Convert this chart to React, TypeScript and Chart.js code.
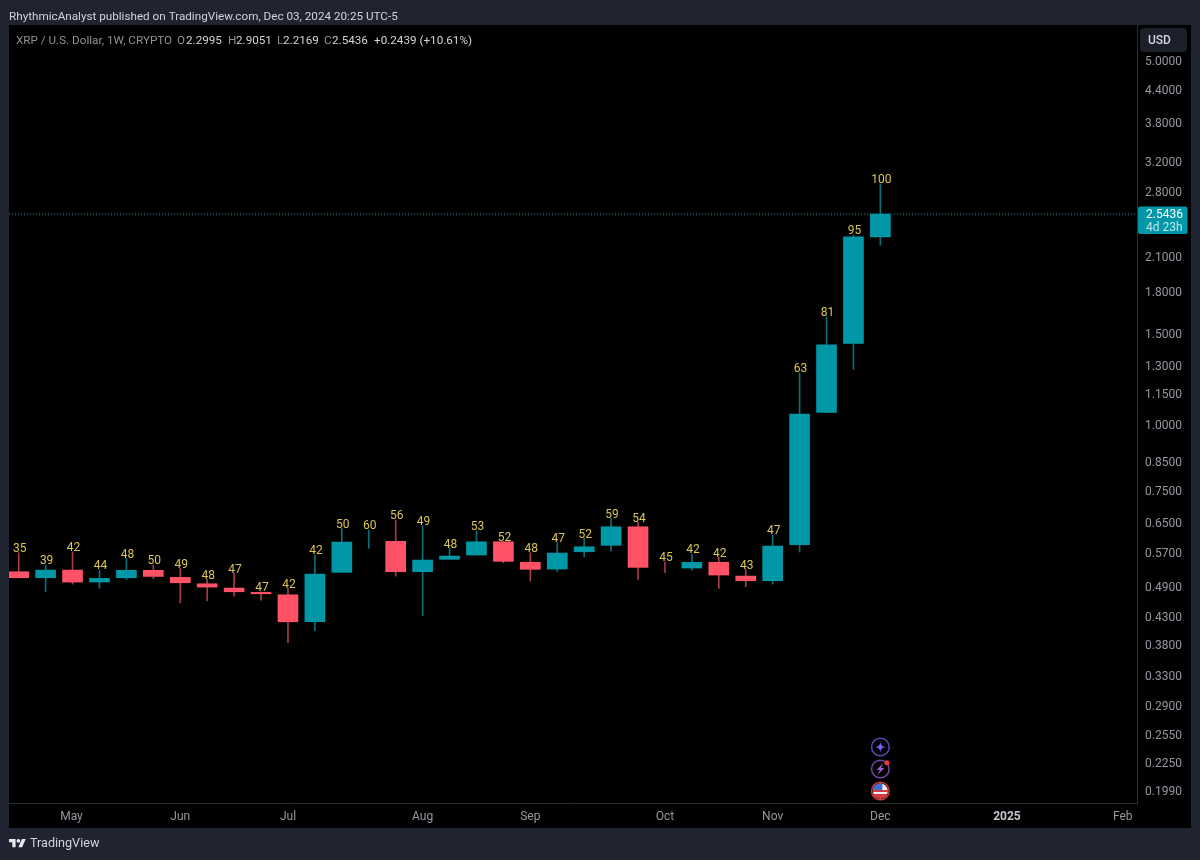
import React, { useEffect, useRef } from 'react';
import { Chart, registerables } from 'chart.js';

Chart.register(...registerables);

const FONT = 'Roboto, "Noto Sans", sans-serif';
const TEAL = '#0097a7';
const RED = '#ff5266';
const TEAL_WICK = '#0b6f78';
const RED_WICK = '#a83a49';

// weekly candles; null open/close = only a wick is visible
const opens = [0.524, 0.5103, 0.5279, 0.5007, 0.5103, 0.5273, 0.5111, 0.4969, 0.4876, 0.4784, 0.4733, 0.4201, 0.5226, null, 0.5993, 0.524, 0.5535, 0.5641, 0.5982, 0.5462, 0.5302, 0.5723, 0.5888, 0.6392, null, 0.5326, 0.5462, 0.5141, 0.5035, 0.5903, 1.0594, 1.437, 2.2995];
const highs = [0.5699, 0.5397, 0.5723, 0.5279, 0.5559, 0.5397, 0.5319, 0.5066, 0.5203, 0.4797, 0.4869, 0.5641, 0.6347, 0.63, 0.6584, 0.6412, 0.581, 0.628, 0.5982, 0.5699, 0.5956, 0.6072, 0.6633, 0.6517, 0.5476, 0.5666, 0.5584, 0.5296, 0.6162, 1.2603, 1.616, 2.3185, 2.9051];
const lows = [0.5103, 0.4797, 0.4962, 0.4869, 0.5066, 0.508, 0.4569, 0.461, 0.4707, 0.4624, 0.3829, 0.4038, 0.5226, 0.581, 0.5141, 0.4314, 0.5535, 0.5641, 0.5452, 0.5029, 0.524, 0.5599, 0.5741, 0.5066, 0.5216, 0.5279, 0.4869, 0.4904, 0.4962, 0.5716, 1.0594, 1.281, 2.2169];
const closes = [0.5103, 0.5279, 0.5007, 0.5089, 0.5273, 0.5133, 0.4991, 0.4897, 0.4797, 0.4754, 0.4201, 0.5187, 0.5974, null, 0.524, 0.5518, 0.5616, 0.5982, 0.5486, 0.5296, 0.5691, 0.5852, 0.6392, 0.5342, null, 0.5462, 0.5164, 0.5035, 0.587, 1.0515, 1.4281, 2.2995, 2.5436];
const rising = [0, 1, 0, 1, 1, 0, 0, 0, 0, 0, 0, 1, 1, 1, 0, 1, 1, 1, 0, 0, 1, 1, 1, 0, 0, 1, 0, 0, 1, 1, 1, 1, 1];
const rsiLabels = ['35', '39', '42', '44', '48', '50', '49', '48', '47', '47', '42', '42', '50', '60', '56', '49', '48', '53', '52', '48', '47', '52', '59', '54', '45', '42', '42', '43', '47', '63', '81', '95', '100'];

const priceTicks = [5, 4.4, 3.8, 3.2, 2.8, 2.1, 1.8, 1.5, 1.3, 1.15, 1, 0.85, 0.75, 0.65, 0.57, 0.49, 0.43, 0.38, 0.33, 0.29, 0.255, 0.225, 0.199];
const monthPositions = [1.96, 6, 10, 15, 19, 24, 28, 32, 36.7, 41];
const monthLabels = ['May', 'Jun', 'Jul', 'Aug', 'Sep', 'Oct', 'Nov', 'Dec', '2025', 'Feb'];
const lastPrice = 2.5436;

const X_MIN = -0.36;
const X_MAX = 41.53;
const Y_MIN = 0.1887;
const Y_MAX = 5.862;

const pageBackground = {
  id: 'pageBackground',
  beforeDraw(chart: Chart) {
    const { ctx } = chart;
    ctx.save();
    ctx.fillStyle = '#1f2430';
    ctx.fillRect(0, 0, 1200, 860);
    ctx.fillStyle = '#000';
    ctx.fillRect(9, 25, 1182, 803);
    ctx.restore();
  },
};

const rsiText = {
  id: 'rsiText',
  afterDatasetsDraw(chart: Chart) {
    const { ctx, scales } = chart;
    ctx.save();
    ctx.font = `12px ${FONT}`;
    ctx.fillStyle = '#d9c653';
    ctx.textAlign = 'center';
    ctx.textBaseline = 'middle';
    rsiLabels.forEach((t, i) => {
      ctx.fillText(t, scales.x.getPixelForValue(i) + 1, scales.y.getPixelForValue(highs[i]) - 3.6);
    });
    ctx.restore();
  },
};

function drawText(ctx: CanvasRenderingContext2D, t: string, x: number, y: number, color: string, font: string) {
  ctx.font = font;
  ctx.fillStyle = color;
  ctx.fillText(t, x, y);
}

const decorations = {
  id: 'decorations',
  afterDraw(chart: Chart) {
    const { ctx, scales } = chart;
    ctx.save();
    ctx.textBaseline = 'middle';
    ctx.textAlign = 'left';

    // header + legend
    const small = `11.7px ${FONT}`;
    drawText(ctx, 'RhythmicAnalyst published on TradingView.com, Dec 03, 2024 20:25 UTC-5', 9, 17, '#d1d4dc', small);
    const dim = '#8f929b';
    const lit = '#d1d4dc';
    drawText(ctx, 'XRP / U.S. Dollar, 1W, CRYPTO', 16, 41, dim, small);
    drawText(ctx, 'O', 177, 41, dim, small);
    drawText(ctx, '2.2995', 186, 41, lit, small);
    drawText(ctx, 'H', 228, 41, dim, small);
    drawText(ctx, '2.9051', 236, 41, lit, small);
    drawText(ctx, 'L', 277, 41, dim, small);
    drawText(ctx, '2.2169', 283, 41, lit, small);
    drawText(ctx, 'C', 324, 41, dim, small);
    drawText(ctx, '2.5436', 332, 41, lit, small);
    drawText(ctx, '+0.2439 (+10.61%)', 374, 41, lit, small);

    // USD button
    ctx.fillStyle = '#1c202b';
    ctx.beginPath();
    ctx.roundRect(1140, 28, 47, 24, 4);
    ctx.fill();
    drawText(ctx, 'USD', 1148, 41, '#d1d4dc', `500 12px ${FONT}`);

    // last price tag
    const tagY = scales.y.getPixelForValue(lastPrice);
    ctx.fillStyle = TEAL;
    ctx.beginPath();
    ctx.roundRect(1138, tagY - 7.5, 49.5, 27.5, 2);
    ctx.fill();
    drawText(ctx, lastPrice.toFixed(4), 1146, tagY + 1, '#ffffff', `12px ${FONT}`);
    drawText(ctx, '4d 23h', 1146, tagY + 14, '#bfe6ea', `12px ${FONT}`);

    // event icons under the last candle
    const ix = scales.x.getPixelForValue(32);
    ctx.lineWidth = 1.5;
    ctx.strokeStyle = '#5b48b8';
    ctx.beginPath();
    ctx.arc(ix, 747, 8.8, 0, Math.PI * 2);
    ctx.stroke();
    ctx.fillStyle = '#7c5cf0';
    ctx.beginPath();
    ctx.moveTo(ix, 741);
    ctx.quadraticCurveTo(ix, 747, ix + 6, 747);
    ctx.quadraticCurveTo(ix, 747, ix, 753);
    ctx.quadraticCurveTo(ix, 747, ix - 6, 747);
    ctx.quadraticCurveTo(ix, 747, ix, 741);
    ctx.fill();

    ctx.strokeStyle = '#6f4aa8';
    ctx.beginPath();
    ctx.arc(ix, 769, 8.8, 0, Math.PI * 2);
    ctx.stroke();
    ctx.fillStyle = '#9b5cd0';
    ctx.beginPath();
    ctx.moveTo(ix + 3, 763);
    ctx.lineTo(ix - 4, 770);
    ctx.lineTo(ix - 0.5, 770);
    ctx.lineTo(ix - 3, 775);
    ctx.lineTo(ix + 4, 768);
    ctx.lineTo(ix + 0.5, 768);
    ctx.closePath();
    ctx.fill();
    ctx.fillStyle = '#f23645';
    ctx.beginPath();
    ctx.arc(ix + 6.5, 762.7, 2.5, 0, Math.PI * 2);
    ctx.fill();

    ctx.save();
    ctx.beginPath();
    ctx.arc(ix, 791, 7.5, 0, Math.PI * 2);
    ctx.clip();
    ctx.fillStyle = '#f4f4f4';
    ctx.fillRect(ix - 8, 783, 16, 16);
    ctx.fillStyle = '#d9383f';
    ctx.fillRect(ix - 8, 790, 16, 2);
    ctx.fillRect(ix - 8, 794, 16, 5);
    ctx.fillStyle = '#3f6fd6';
    ctx.fillRect(ix - 8, 783, 10, 7);
    ctx.restore();
    ctx.strokeStyle = '#d8363f';
    ctx.beginPath();
    ctx.arc(ix, 791, 8.8, 0, Math.PI * 2);
    ctx.stroke();

    // footer logo + name
    ctx.fillStyle = '#e8eaf0';
    ctx.save();
    ctx.translate(9, 837);
    ctx.scale(0.47, 0.47);
    ctx.fill(new Path2D('M14 22H7V11H0V4h14v18zM28 22h-8l7.5-18h8L28 22z'));
    ctx.beginPath();
    ctx.arc(20, 8, 4, 0, Math.PI * 2);
    ctx.fill();
    ctx.restore();
    drawText(ctx, 'TradingView', 30, 844, '#d1d4dc', `400 12.6px ${FONT}`);

    ctx.restore();
  },
};

export default function App() {
  const canvasRef = useRef<HTMLCanvasElement | null>(null);

  useEffect(() => {
    document.body.style.margin = '0';
    document.body.style.background = '#1f2430';
    if (!canvasRef.current) return;

    const idx = opens.map((_, i) => i);
    const bodyIdx = idx.filter((i) => opens[i] !== null);

    const chart = new Chart(canvasRef.current, {
      type: 'bar',
      data: {
        datasets: [
          {
            type: 'line',
            data: [
              { x: X_MIN, y: lastPrice },
              { x: X_MAX, y: lastPrice },
            ],
            borderColor: '#1a9aa8',
            borderWidth: 1,
            borderDash: [1, 2],
            pointRadius: 0,
            order: 3,
          },
          {
            // wicks
            data: idx.map((i) => ({ x: i, y: [lows[i], highs[i]] })),
            backgroundColor: idx.map((i) => (rising[i] ? TEAL_WICK : RED_WICK)),
            barThickness: 1,
            grouped: false,
            order: 2,
          },
          {
            // bodies
            data: bodyIdx.map((i) => ({ x: i, y: [opens[i], closes[i]] })),
            backgroundColor: bodyIdx.map((i) => (rising[i] ? TEAL : RED)),
            barThickness: 20,
            grouped: false,
            order: 1,
          },
        ] as any,
      },
      options: {
        responsive: false,
        animation: false,
        events: [],
        layout: { padding: { left: 9, top: 25, right: 9, bottom: 32 } },
        plugins: {
          legend: { display: false },
          tooltip: { enabled: false },
        },
        scales: {
          x: {
            type: 'linear',
            offset: false,
            min: X_MIN,
            max: X_MAX,
            afterBuildTicks: (axis: any) => {
              axis.ticks = monthPositions.map((value) => ({ value }));
            },
            afterFit: (axis: any) => {
              axis.height = 25;
            },
            grid: { drawOnChartArea: false, drawTicks: false },
            border: { color: '#2a2e39' },
            ticks: {
              autoSkip: false,
              maxRotation: 0,
              padding: 7,
              color: (c: any) => (c.tick?.value === 36.7 ? '#c4c7cf' : '#9598a1'),
              font: (c: any) => ({
                family: FONT,
                size: 12,
                weight: c.tick?.value === 36.7 ? 'bold' : 'normal',
              }),
              callback: (v: any) => monthLabels[monthPositions.indexOf(v)],
            },
          },
          y: {
            type: 'logarithmic',
            position: 'right',
            min: Y_MIN,
            max: Y_MAX,
            afterBuildTicks: (axis: any) => {
              axis.ticks = priceTicks.map((value) => ({ value }));
            },
            afterFit: (axis: any) => {
              axis.width = 54;
            },
            grid: { drawOnChartArea: false, drawTicks: false },
            border: { color: '#2a2e39' },
            ticks: {
              autoSkip: false,
              padding: 8,
              labelOffset: 1,
              color: '#9598a1',
              font: { family: FONT, size: 12 },
              callback: (v: any) => Number(v).toFixed(4),
            },
          },
        },
      },
      plugins: [pageBackground, rsiText, decorations],
    });

    return () => chart.destroy();
  }, []);

  return (
    <div style={{ position: 'absolute', left: 0, top: 0, width: 1200, height: 860 }}>
      <canvas ref={canvasRef} width={1200} height={860} style={{ display: 'block' }}></canvas>
    </div>
  );
}
